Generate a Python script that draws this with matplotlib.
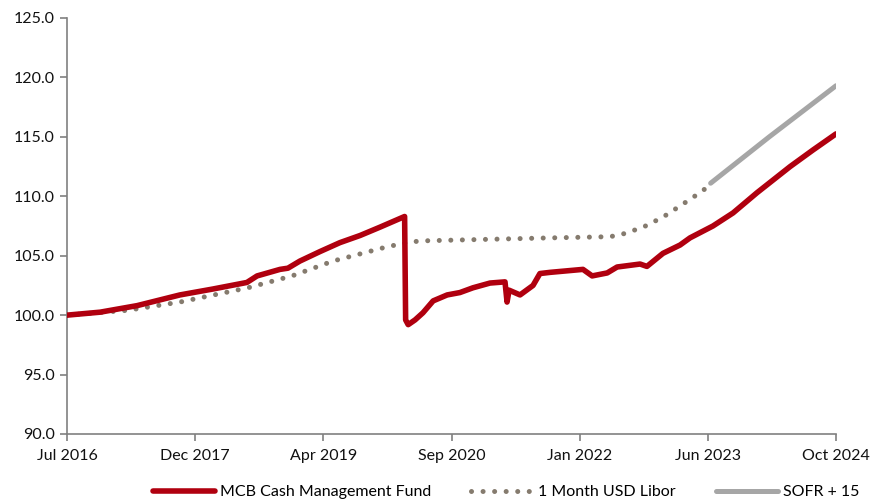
import numpy as np
import matplotlib
matplotlib.use("Agg")
import matplotlib.pyplot as plt
import matplotlib.dates as mdates
from matplotlib.ticker import FormatStrFormatter

plt.rcParams['font.family'] = ['Lato', 'DejaVu Sans']

# ---- data ----
mcb_dates = ["2016-07-20", "2016-11-27", "2017-04-21", "2017-10-06", "2018-02-13",
             "2018-06-26", "2018-08-05", "2018-11-03", "2018-12-04", "2019-01-20",
             "2019-04-09", "2019-06-26", "2019-09-13", "2019-11-30", "2020-03-06",
             "2020-03-10", "2020-03-20", "2020-04-16", "2020-05-17", "2020-06-26",
             "2020-08-20", "2020-10-09", "2020-11-29", "2021-02-04", "2021-04-04",
             "2021-04-12", "2021-04-20", "2021-06-02", "2021-07-23", "2021-08-19",
             "2021-09-28", "2022-02-04", "2022-03-12", "2022-05-10", "2022-06-18",
             "2022-09-16", "2022-10-13", "2022-12-15", "2023-02-20", "2023-03-31",
             "2023-06-29", "2023-09-16", "2023-12-19", "2024-04-27", "2024-07-26",
             "2024-10-24"]
mcb_values = [100.0, 100.25, 100.8, 101.7, 102.2,
              102.75, 103.3, 103.85, 103.95, 104.55,
              105.35, 106.1, 106.7, 107.4, 108.3,
              99.6, 99.2, 99.6, 100.2, 101.2,
              101.7, 101.9, 102.3, 102.7, 102.8,
              101.1, 102.1, 101.7, 102.5, 103.5,
              103.6, 103.85, 103.3, 103.55, 104.05,
              104.3, 104.1, 105.2, 105.9, 106.5,
              107.5, 108.6, 110.3, 112.5, 113.9,
              115.25]

libor_dates = ["2016-07-20", "2017-03-12", "2017-10-06", "2018-06-30", "2018-12-20",
               "2019-05-30", "2019-12-28", "2020-03-27", "2020-05-13", "2021-09-28",
               "2022-05-21", "2022-07-07", "2022-09-28", "2022-12-15", "2023-02-28",
               "2023-05-09", "2023-06-18"]
libor_values = [100.0, 100.4, 101.1, 102.3, 103.3,
                104.55, 105.75, 106.15, 106.25, 106.5,
                106.6, 106.8, 107.4, 108.25, 109.3,
                110.3, 110.95]

sofr_dates = ["2023-06-20", "2024-02-05", "2024-10-24"]
sofr_values = [111.1, 115.0, 119.3]

series_labels = ["MCB Cash Management Fund", "1 Month USD Libor", "SOFR + 15"]
y_ticks = [90, 95, 100, 105, 110, 115, 120, 125]

# ---- figure ----
fig = plt.figure(figsize=(8.72, 4.99), dpi=100)
ax = fig.add_axes([67/872, 1-434/499, (836-67)/872, (434-18)/499])

def to_num(ds):
    return mdates.date2num(np.array(ds, dtype="datetime64[D]"))

ax.plot(to_num(mcb_dates), mcb_values, color="#b0000f", lw=4.0,
        solid_joinstyle="round", solid_capstyle="round", label=series_labels[0], zorder=3)
ax.plot(to_num(libor_dates), libor_values, color="#857b6e", lw=3.6,
        linestyle=(0, (0.01, 2.3)), dash_capstyle="round", label=series_labels[1], zorder=2)
ax.plot(to_num(sofr_dates), sofr_values, color="#a6a6a6", lw=3.6,
        solid_capstyle="round", label=series_labels[2], zorder=2)

start = to_num(["2016-07-20"])[0]
step = 503
ticks = [start + k*step for k in range(7)]
ax.set_xlim(start, ticks[-1])
ax.set_xticks(ticks)
ax.set_xticklabels([mdates.num2date(t).strftime("%b %Y") for t in ticks])

ax.set_ylim(90, 125)
ax.set_yticks(y_ticks)
ax.yaxis.set_major_formatter(FormatStrFormatter("%.1f"))

for s in ["top", "right"]:
    ax.spines[s].set_visible(False)
for s in ["left", "bottom"]:
    ax.spines[s].set_color("#808080")
    ax.spines[s].set_linewidth(1.2)
ax.tick_params(axis="both", direction="out", length=5, width=1.2, color="#808080",
               labelsize=11.5, labelcolor="#111111")
ax.tick_params(axis="x", pad=6)
ax.tick_params(axis="y", pad=4)

leg = fig.legend(loc="center", bbox_to_anchor=(506/872, 1-492/499), ncol=3, frameon=False,
                 fontsize=11.5, handlelength=3.9, handletextpad=0.3, columnspacing=2.5,
                 borderaxespad=0)

fig.savefig("out.png", dpi=100)
